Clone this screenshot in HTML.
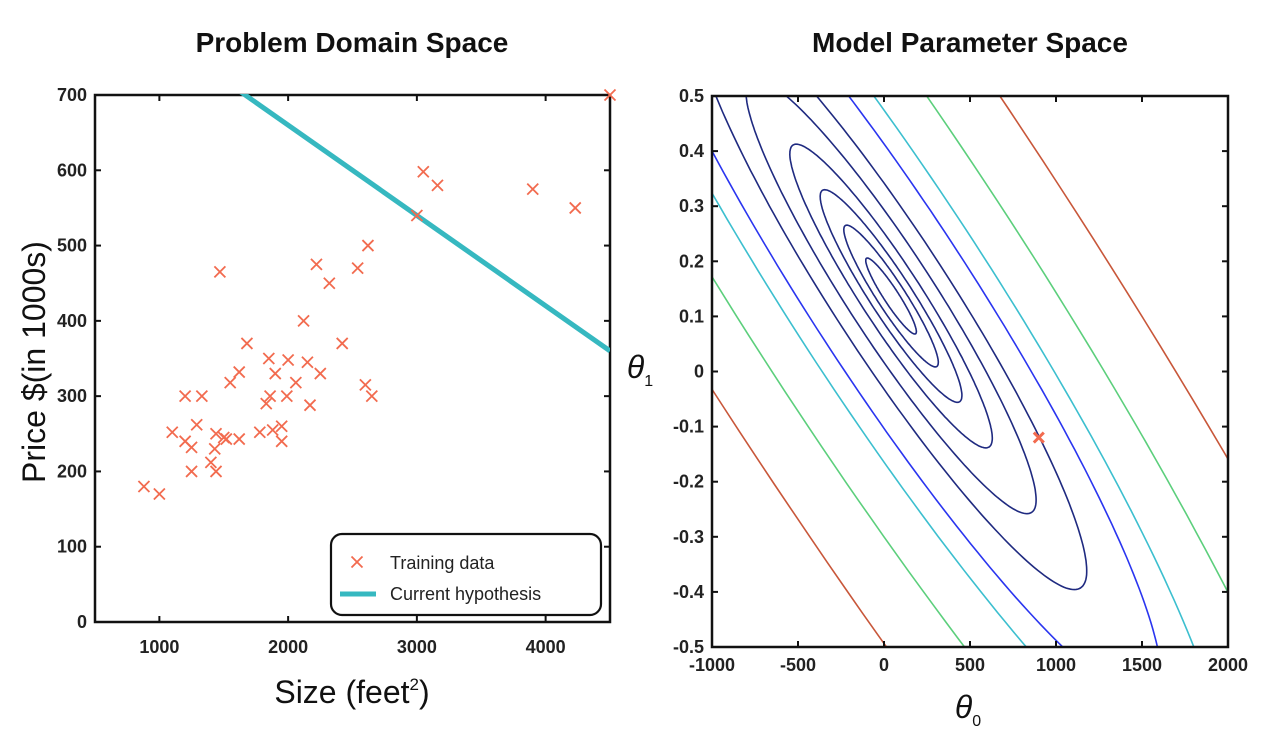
<!DOCTYPE html>
<html><head><meta charset="utf-8"><style>
html,body{margin:0;padding:0;background:#fff;overflow:hidden;width:1274px;height:742px;}
svg{display:block;}
svg text{font-family:"Liberation Sans",sans-serif;}
</style></head><body>
<svg id="fig" width="1274" height="742" viewBox="0 0 1274 742" xmlns="http://www.w3.org/2000/svg">
<text x="352" y="52" text-anchor="middle" font-size="28" font-weight="bold" fill="#111">Problem Domain Space</text>
<text x="970" y="52" text-anchor="middle" font-size="28" font-weight="bold" fill="#111">Model Parameter Space</text>
<g id="left"></g>
<g id="right"></g>
<text x="352" y="703" text-anchor="middle" font-size="32" fill="#111">Size (feet<tspan font-size="17" dy="-13">2</tspan><tspan dy="13">)</tspan></text>
<text transform="translate(45,362) rotate(-90)" text-anchor="middle" font-size="32" fill="#111">Price $(in 1000s)</text>
<text x="968" y="718" text-anchor="middle" font-size="32" font-style="italic" fill="#111">θ<tspan font-size="16" dy="8" font-style="normal">0</tspan></text>
<text x="640" y="378" text-anchor="middle" font-size="32" font-style="italic" fill="#111">θ<tspan font-size="16" dy="8" font-style="normal">1</tspan></text>
</svg>
<script>
const sizes=[880,1000,1100,1200,1200,1250,1250,1290,1330,1400,1430,1440,1440,1470,1500,1520,1550,1620,1620,1680,1780,1830,1850,1860,1880,1900,1950,1950,1990,2000,2060,2120,2150,2170,2220,2250,2320,2420,2540,2600,2620,2650,3000,3050,3160,3900,4230,4500];
const prices=[180,170,252,300,240,232,200,262,300,212,230,250,200,465,245,243,318,332,243,370,252,290,350,300,255,330,240,260,300,348,318,400,345,288,475,330,450,370,470,315,500,300,540,598,580,575,550,700];
const xTicks=[1000,2000,3000,4000];
const yTicks=[0,100,200,300,400,500,600,700];
const theta0=900, theta1=-0.12;
const t0Ticks=[-1000,-500,0,500,1000,1500,2000];
const t1Ticks=[-0.5,-0.4,-0.3,-0.2,-0.1,0,0.1,0.2,0.3,0.4,0.5];
const t1Labels=['-0.5','-0.4','-0.3','-0.2','-0.1','0','0.1','0.2','0.3','0.4','0.5'];
const costCenter=[41,0.137];
const contourLevels=[7.5,14,21,30,43,58,80,99,141,201];
const contourColors=['#1f2a80','#1f2a80','#1f2a80','#1f2a80','#1f2a80','#1f2a80','#2a35f0','#3cbfcf','#5ccf7c','#c8573a'];

const NS='http://www.w3.org/2000/svg';
function mk(p,t,a){const e=document.createElementNS(NS,t);for(const k in a)e.setAttribute(k,a[k]);p.appendChild(e);return e;}
const L=document.getElementById('left'),R=document.getElementById('right');
const lx0=95,lx1=610,ly0=95,ly1=622;
const sx=v=>lx0+(v-500)/4000*(lx1-lx0), sy=v=>ly1-v/700*(ly1-ly0);
let fr=mk(L,'rect',{x:lx0,y:ly0,width:lx1-lx0,height:ly1-ly0,fill:'none',stroke:'#111','stroke-width':2.5});

xTicks.forEach(v=>{const x=sx(v);
 mk(L,'line',{x1:x,x2:x,y1:ly1,y2:ly1-6,stroke:'#111','stroke-width':2});
 mk(L,'line',{x1:x,x2:x,y1:ly0,y2:ly0+6,stroke:'#111','stroke-width':2});
 const t=mk(L,'text',{x:x,y:ly1+31,'text-anchor':'middle','font-size':18,'font-weight':'bold',fill:'#222'});t.textContent=v;
 });
yTicks.forEach(v=>{const y=sy(v);
 mk(L,'line',{x1:lx0,x2:lx0+6,y1:y,y2:y,stroke:'#111','stroke-width':2});
 mk(L,'line',{x1:lx1,x2:lx1-6,y1:y,y2:y,stroke:'#111','stroke-width':2});
 const t=mk(L,'text',{x:lx0-8,y:y+6,'text-anchor':'end','font-size':18,'font-weight':'bold',fill:'#222'});t.textContent=v;
 });
mk(L,'clipPath',{id:'lc'});mk(document.getElementById('lc'),'rect',{x:lx0,y:ly0-1,width:lx1-lx0,height:ly1-ly0+1});
const xa=500,xb=4500;
const hl=mk(L,'line',{x1:sx(xa),y1:sy(theta0+theta1*xa),x2:sx(xb),y2:sy(theta0+theta1*xb),stroke:'#36b8c0','stroke-width':5,'clip-path':'url(#lc)'});

function cross(p,x,y,s,w,c){const g=mk(p,'g',{});mk(g,'path',{d:`M${x-s},${y-s}L${x+s},${y+s}M${x-s},${y+s}L${x+s},${y-s}`,stroke:c,'stroke-width':w,fill:'none'});return g;}
sizes.forEach((s,i)=>{const g=cross(L,sx(s),sy(prices[i]),5.5,1.8,'#f26b4f');
 });
const lg=mk(L,'g',{});
mk(lg,'rect',{x:331,y:534,width:270,height:81,rx:11,fill:'#fff',stroke:'#111','stroke-width':2.2});
cross(lg,357,562,5.5,1.8,'#f26b4f');
let t=mk(lg,'text',{x:390,y:569,'font-size':18,fill:'#222'});t.textContent='Training data';
mk(lg,'line',{x1:340,x2:376,y1:594,y2:594,stroke:'#36b8c0','stroke-width':5});
t=mk(lg,'text',{x:390,y:600,'font-size':18,fill:'#222'});t.textContent='Current hypothesis';
const rx0=712,rx1=1228,ry0=96,ry1=647;
const tx=v=>rx0+(v+1000)/3000*(rx1-rx0), ty=v=>ry1-(v+0.5)*(ry1-ry0);
mk(R,'clipPath',{id:'rc'});mk(document.getElementById('rc'),'rect',{x:rx0,y:ry0,width:rx1-rx0,height:ry1-ry0});
const cx=tx(costCenter[0]),cy=ty(costCenter[1]);
const ang=57*Math.PI/180,ratio=6,ux=Math.cos(ang),uy=Math.sin(ang),vx=Math.sin(ang),vy=-Math.cos(ang);
contourLevels.forEach((b,i)=>{const a=b*ratio;let d='';
 for(let k=0;k<=240;k++){const th=k/240*2*Math.PI;const p=a*Math.cos(th),q=b*Math.sin(th);
  d+=(k?'L':'M')+(cx+p*ux+q*vx).toFixed(1)+','+(cy+p*uy+q*vy).toFixed(1);}
 const e=mk(R,'path',{d:d+'Z',fill:'none',stroke:contourColors[i],'stroke-width':1.6,'clip-path':'url(#rc)'});
 });
const m=cross(R,tx(theta0),ty(theta1),5,3,'#f26b4f');

fr=mk(R,'rect',{x:rx0,y:ry0,width:rx1-rx0,height:ry1-ry0,fill:'none',stroke:'#111','stroke-width':2.5});

t0Ticks.forEach(v=>{const x=tx(v);
 mk(R,'line',{x1:x,x2:x,y1:ry1,y2:ry1-6,stroke:'#111','stroke-width':2});
 mk(R,'line',{x1:x,x2:x,y1:ry0,y2:ry0+6,stroke:'#111','stroke-width':2});
 const t=mk(R,'text',{x:x,y:ry1+24,'text-anchor':'middle','font-size':18,'font-weight':'bold',fill:'#222'});t.textContent=v;
 });
t1Ticks.forEach((v,i)=>{const y=ty(v);
 mk(R,'line',{x1:rx0,x2:rx0+6,y1:y,y2:y,stroke:'#111','stroke-width':2});
 mk(R,'line',{x1:rx1,x2:rx1-6,y1:y,y2:y,stroke:'#111','stroke-width':2});
 const t=mk(R,'text',{x:rx0-8,y:y+6,'text-anchor':'end','font-size':18,'font-weight':'bold',fill:'#222'});t.textContent=t1Labels[i];
 });
</script>
</body></html>
